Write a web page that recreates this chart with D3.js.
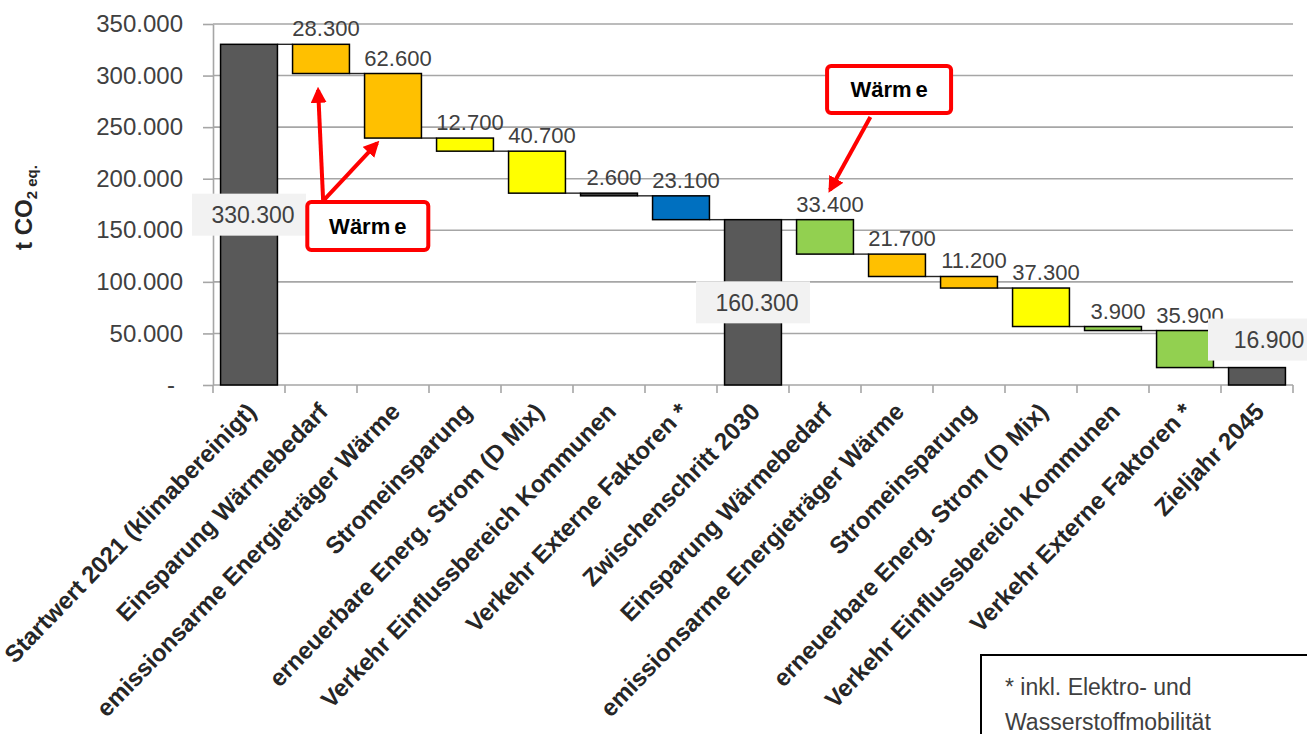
<!DOCTYPE html>
<html>
<head>
<meta charset="utf-8">
<script src="https://cdn.jsdelivr.net/npm/d3@7"></script>
<style>
  html, body { margin: 0; padding: 0; background: #fff; overflow: hidden; }
  svg { display: block; font-family: "Liberation Sans", Arial, sans-serif; }
</style>
</head>
<body>
<svg id="chart"></svg>
<script>
// Kategorien der Wasserfall-Grafik
const categories = [
  "Startwert 2021 (klimabereinigt)",
  "Einsparung Wärmebedarf",
  "emissionsarme Energieträger Wärme",
  "Stromeinsparung",
  "erneuerbare Energ. Strom (D Mix)",
  "Verkehr Einflussbereich Kommunen",
  "Verkehr Externe Faktoren *",
  "Zwischenschritt 2030",
  "Einsparung Wärmebedarf",
  "emissionsarme Energieträger Wärme",
  "Stromeinsparung",
  "erneuerbare Energ. Strom (D Mix)",
  "Verkehr Einflussbereich Kommunen",
  "Verkehr Externe Faktoren *",
  "Zieljahr 2045"
];

// t CO2 eq. (Summen bzw. Minderungen)
const values = [330300, 28300, 62600, 12700, 40700, 2600, 23100, 160300,
                33400, 21700, 11200, 37300, 3900, 35900, 16900];

const kinds = ["total", "delta", "delta", "delta", "delta", "delta", "delta", "total",
               "delta", "delta", "delta", "delta", "delta", "delta", "total"];

const yTicks = [0, 50000, 100000, 150000, 200000, 250000, 300000, 350000];

const footnote = ["* inkl. Elektro- und", "Wasserstoffmobilität"];

// Farben je Balken
const barColors = ["#595959", "#FFC000", "#FFC000", "#FFFF00", "#FFFF00", "#404040", "#0070C0", "#595959",
                   "#92D050", "#FFC000", "#FFC000", "#FFFF00", "#92D050", "#92D050", "#595959"];

// Hinweise "Wärme": Position in Kategorie-Einheiten (u) und Wert (v)
const notes = [
  { u: 2.15, v: 154200, w: 121, h: 48, arrows: [
      { fu: 1.53, fv: 178500, tu: 1.46, tv: 286000 },
      { fu: 1.53, fv: 178500, tu: 2.28, tv: 234600 }
  ]},
  { u: 9.39, v: 286500, w: 124, h: 47, arrows: [
      { fu: 9.13, fv: 259800, tu: 8.57, tv: 189000 }
  ]}
];

const width = 1307, height = 734;
const margin = { top: 24, right: 14, bottom: 349, left: 213 };

const svg = d3.select("#chart").attr("width", width).attr("height", height);

const x = d3.scaleBand()
  .domain(d3.range(categories.length))
  .range([margin.left, width - margin.right])
  .paddingInner(0.21)
  .paddingOuter(0.105);

const y = d3.scaleLinear()
  .domain([0, 350000])
  .range([height - margin.bottom, margin.top]);

const step = x.step();
const xPos = u => margin.left + u * step; // u in Kategorie-Einheiten

const de = d3.formatLocale({ decimal: ",", thousands: ".", grouping: [3], currency: ["", " €"] });
const fmt = de.format(",d");

// Wasserfall: Anfang/Ende je Balken
let running = 0;
const bars = values.map((v, i) => {
  let lo, hi;
  if (kinds[i] === "total") { lo = 0; hi = v; running = v; }
  else { hi = running; lo = running - v; running = lo; }
  return { i, v, lo, hi, kind: kinds[i] };
});

// Gitterlinien
svg.append("g")
  .selectAll("line")
  .data(yTicks.filter(t => t > 0))
  .join("line")
  .attr("x1", margin.left).attr("x2", width - margin.right)
  .attr("y1", d => y(d)).attr("y2", d => y(d))
  .attr("stroke", "#a6a6a6").attr("stroke-width", 1.6);

// Y-Achse
const yAxis = svg.append("g")
  .attr("transform", `translate(${margin.left},0)`)
  .call(d3.axisLeft(y).tickValues(yTicks).tickSize(10).tickSizeOuter(0).tickPadding(20)
    .tickFormat(d => d === 0 ? "-" : fmt(d)));
yAxis.selectAll("path, line").attr("stroke", "#a6a6a6").attr("stroke-width", 1.6);
yAxis.selectAll("text")
  .attr("font-size", 24).attr("fill", "#404040")
  .attr("font-family", "'Liberation Sans', Arial, sans-serif");
yAxis.selectAll(".tick text").filter(d => d === 0).attr("dx", -8);

// X-Achse (Grundlinie + Teilstriche an Kategoriegrenzen)
const base = y(0);
svg.append("line")
  .attr("x1", margin.left).attr("x2", width - margin.right)
  .attr("y1", base).attr("y2", base)
  .attr("stroke", "#a6a6a6").attr("stroke-width", 1.6);

svg.append("g")
  .selectAll("line")
  .data(d3.range(categories.length + 1))
  .join("line")
  .attr("x1", d => xPos(d)).attr("x2", d => xPos(d))
  .attr("y1", base).attr("y2", base + 8)
  .attr("stroke", "#a6a6a6").attr("stroke-width", 1.6);

// Verbindungslinien
const level = b => b.kind === "total" ? b.hi : b.lo;
svg.append("g")
  .selectAll("line")
  .data(bars.slice(0, -1))
  .join("line")
  .attr("x1", d => x(d.i) + x.bandwidth())
  .attr("x2", d => x(d.i + 1))
  .attr("y1", d => y(level(d)))
  .attr("y2", d => y(level(d)))
  .attr("stroke", "#262626").attr("stroke-width", 1.4);

// Balken
svg.append("g")
  .selectAll("rect")
  .data(bars)
  .join("rect")
  .attr("x", d => x(d.i))
  .attr("y", d => y(d.hi))
  .attr("width", x.bandwidth())
  .attr("height", d => y(d.lo) - y(d.hi))
  .attr("fill", d => barColors[d.i])
  .attr("stroke", "#000")
  .attr("stroke-width", 1.5);

// Beschriftung der Minderungen
svg.append("g")
  .selectAll("text")
  .data(bars.filter(b => b.kind === "delta"))
  .join("text")
  .attr("x", d => x(d.i) + x.bandwidth() / 2 + 5)
  .attr("y", d => y(d.hi) - 8)
  .attr("text-anchor", "middle")
  .attr("font-size", 22)
  .attr("fill", "#404040")
  .text(d => fmt(d.v));

// Beschriftung der Summen (mit grauem Kasten)
const totals = svg.append("g")
  .selectAll("g")
  .data(bars.filter(b => b.kind === "total"))
  .join("g")
  .attr("transform", d => {
    const h = y(d.lo) - y(d.hi);
    const short = h < 60;
    const cx = x(d.i) + x.bandwidth() / 2 + (short ? 8 : 0);
    const cy = short ? y(d.hi) - 28 : (y(d.lo) + y(d.hi)) / 2;
    return `translate(${cx},${cy})`;
  });
totals.append("rect")
  .attr("x", -57).attr("y", -21).attr("width", 114).attr("height", 42)
  .attr("fill", "#f2f2f2");
totals.append("text")
  .attr("x", 4).attr("dy", "0.36em")
  .attr("text-anchor", "middle")
  .attr("font-size", 23)
  .attr("fill", "#404040")
  .text(d => fmt(d.v));

// Kategoriebeschriftungen
svg.append("g")
  .selectAll("text")
  .data(categories)
  .join("text")
  .attr("transform", (d, i) => `translate(${x(i) + x.bandwidth() / 2 - 4},${base + 16}) rotate(-46)`)
  .attr("dy", "0.72em")
  .attr("text-anchor", "end")
  .attr("font-size", 24)
  .attr("font-weight", "bold")
  .attr("fill", "#262626")
  .text(d => d);

// Achsentitel
const yt = svg.append("text")
  .attr("transform", `translate(32,${y(172000)}) rotate(-90)`)
  .attr("text-anchor", "middle")
  .attr("font-size", 24)
  .attr("font-weight", "bold")
  .attr("fill", "#262626");
yt.append("tspan").text("t CO");
yt.append("tspan").attr("font-size", 15).attr("dy", 5).text("2 eq.");

// Hinweise "Wärme"
const defs = svg.append("defs");
defs.append("marker")
  .attr("id", "arrow")
  .attr("viewBox", "0 0 10 10")
  .attr("refX", 8).attr("refY", 5)
  .attr("markerWidth", 4).attr("markerHeight", 4)
  .attr("markerUnits", "strokeWidth")
  .attr("orient", "auto")
  .append("path").attr("d", "M0,0 L10,5 L0,10 z").attr("fill", "#ff0000");

notes.forEach(n => {
  n.arrows.forEach(a => {
    svg.append("line")
      .attr("x1", xPos(a.fu)).attr("y1", y(a.fv))
      .attr("x2", xPos(a.tu)).attr("y2", y(a.tv))
      .attr("stroke", "#ff0000").attr("stroke-width", 4)
      .attr("marker-end", "url(#arrow)");
  });
  const g = svg.append("g").attr("transform", `translate(${xPos(n.u)},${y(n.v)})`);
  g.append("rect")
    .attr("x", -n.w / 2).attr("y", -n.h / 2)
    .attr("width", n.w).attr("height", n.h)
    .attr("rx", 4)
    .attr("fill", "#fff").attr("stroke", "#ff0000").attr("stroke-width", 4);
  const t = g.append("text")
    .attr("text-anchor", "middle").attr("dy", "0.36em")
    .attr("font-size", 22).attr("font-weight", "bold").attr("fill", "#000");
  t.append("tspan").text("Wärm");
  t.append("tspan").attr("dx", 4).text("e");
});

// Fußnote
const fn = svg.append("g").attr("transform", "translate(981,655)");
fn.append("rect")
  .attr("width", 340).attr("height", 100)
  .attr("fill", "#fff").attr("stroke", "#000").attr("stroke-width", 2);
fn.selectAll("text")
  .data(footnote)
  .join("text")
  .attr("x", 24)
  .attr("y", (d, i) => 40 + i * 35)
  .attr("font-size", 23)
  .attr("fill", "#404040")
  .text(d => d);
</script>
</body>
</html>
